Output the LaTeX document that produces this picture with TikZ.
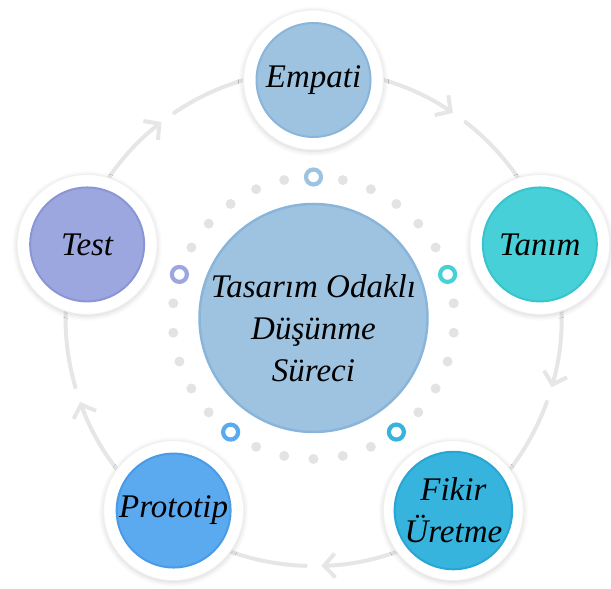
\documentclass[tikz,border=0pt]{standalone}
\usepackage{fontspec}
\setmainfont{Liberation Serif}
\usetikzlibrary{arrows.meta,shadows.blur}
\definecolor{ringgray}{HTML}{E6E6E6}
\definecolor{dotgray}{HTML}{E3E3E3}
\definecolor{empfill}{HTML}{9DC3E1}
\definecolor{empline}{HTML}{8AB5DA}
\definecolor{tanfill}{HTML}{48D0D9}
\definecolor{tanline}{HTML}{38C3CD}
\definecolor{fikfill}{HTML}{37B4DE}
\definecolor{fikline}{HTML}{28A6D2}
\definecolor{profill}{HTML}{5BA9EE}
\definecolor{proline}{HTML}{4A9BE6}
\definecolor{tesfill}{HTML}{9DA7DF}
\definecolor{tesline}{HTML}{8A95D6}
\begin{document}
\begin{tikzpicture}[x=1pt,y=1pt,
  halo/.style={circle, fill=white, draw=black!6, line width=1pt, minimum size=140pt, inner sep=0pt,
    blur shadow={shadow xshift=0pt, shadow yshift=-1.5pt, shadow blur radius=5pt, shadow opacity=18}},
  stage/.style={circle, minimum size=114pt, inner sep=0pt, line width=2pt, align=center,
    font=\fontsize{33}{42}\selectfont\itshape},
  ringline/.style={draw=ringgray, line width=4pt, line cap=round},
  ringarrow/.style={ringline, -{Straight Barb[length=11pt, width=24pt]}},
  dotg/.style={circle, fill=dotgray, minimum size=10pt, inner sep=0pt},
  ringdot/.style={circle, draw=#1, line width=4.2pt, minimum size=15pt, inner sep=0pt},
  ctext/.style={align=center, font=\fontsize{33}{42}\selectfont\itshape}
]
\useasboundingbox (0,0) rectangle (611,589);
\coordinate (C) at (313.5,271);

% ring arcs with arrows
\foreach \a in {90,18,-54,-126,162}{
  \pgfmathsetmacro\m{\a-36}
  \draw[ringarrow] ([shift={(\a:248)}]C) arc[start angle=\a, end angle=\m+1.8, radius=248];
  \draw[ringline] ([shift={(\m-1.8:248)}]C) arc[start angle=\m-1.8, end angle=\a-72, radius=248];
}

% dots around the centre
\foreach \k in {1,...,29}{
  \pgfmathtruncatemacro\r{mod(\k,6)}
  \ifnum\r=0\relax\else
    \node[dotg] (dot\k) at ([shift={(90+12*\k:141)}]C) {};
  \fi
}
\node[ringdot=empfill] (rE) at ([shift={(90:141)}]C) {};
\node[ringdot=tanfill] (rT) at ([shift={(18:141)}]C) {};
\node[ringdot=fikfill] (rF) at ([shift={(-54:141)}]C) {};
\node[ringdot=profill] (rP) at ([shift={(-126:141)}]C) {};
\node[ringdot=tesfill] (rS) at ([shift={(162:141)}]C) {};

% centre
\node[circle, minimum size=228pt, inner sep=0pt, fill=empfill, draw=empline, line width=2.5pt] (centre) at (C) {};
\node[ctext] (centretext) at ([yshift=-10pt]C) {Tasarım Odaklı\\Düşünme\\Süreci};

% halos
\node[halo] (hE) at ([shift={(90:238)}]C) {};
\node[halo] (hT) at ([shift={(18:238)}]C) {};
\node[halo] (hF) at ([shift={(-54:238)}]C) {};
\node[halo] (hP) at ([shift={(-126:238)}]C) {};
\node[halo] (hS) at ([shift={(162:238)}]C) {};

% stages
\node[stage, fill=empfill, draw=empline] (empati) at (hE) {Empati};
\node[stage, fill=tanfill, draw=tanline] (tanim) at (hT) {Tanım};
\node[stage, fill=fikfill, draw=fikline] (fikir) at (hF) {Fikir\\Üretme};
\node[stage, fill=profill, draw=proline] (prototip) at (hP) {Prototip};
\node[stage, fill=tesfill, draw=tesline] (test) at (hS) {Test};
\end{tikzpicture}
\end{document}
